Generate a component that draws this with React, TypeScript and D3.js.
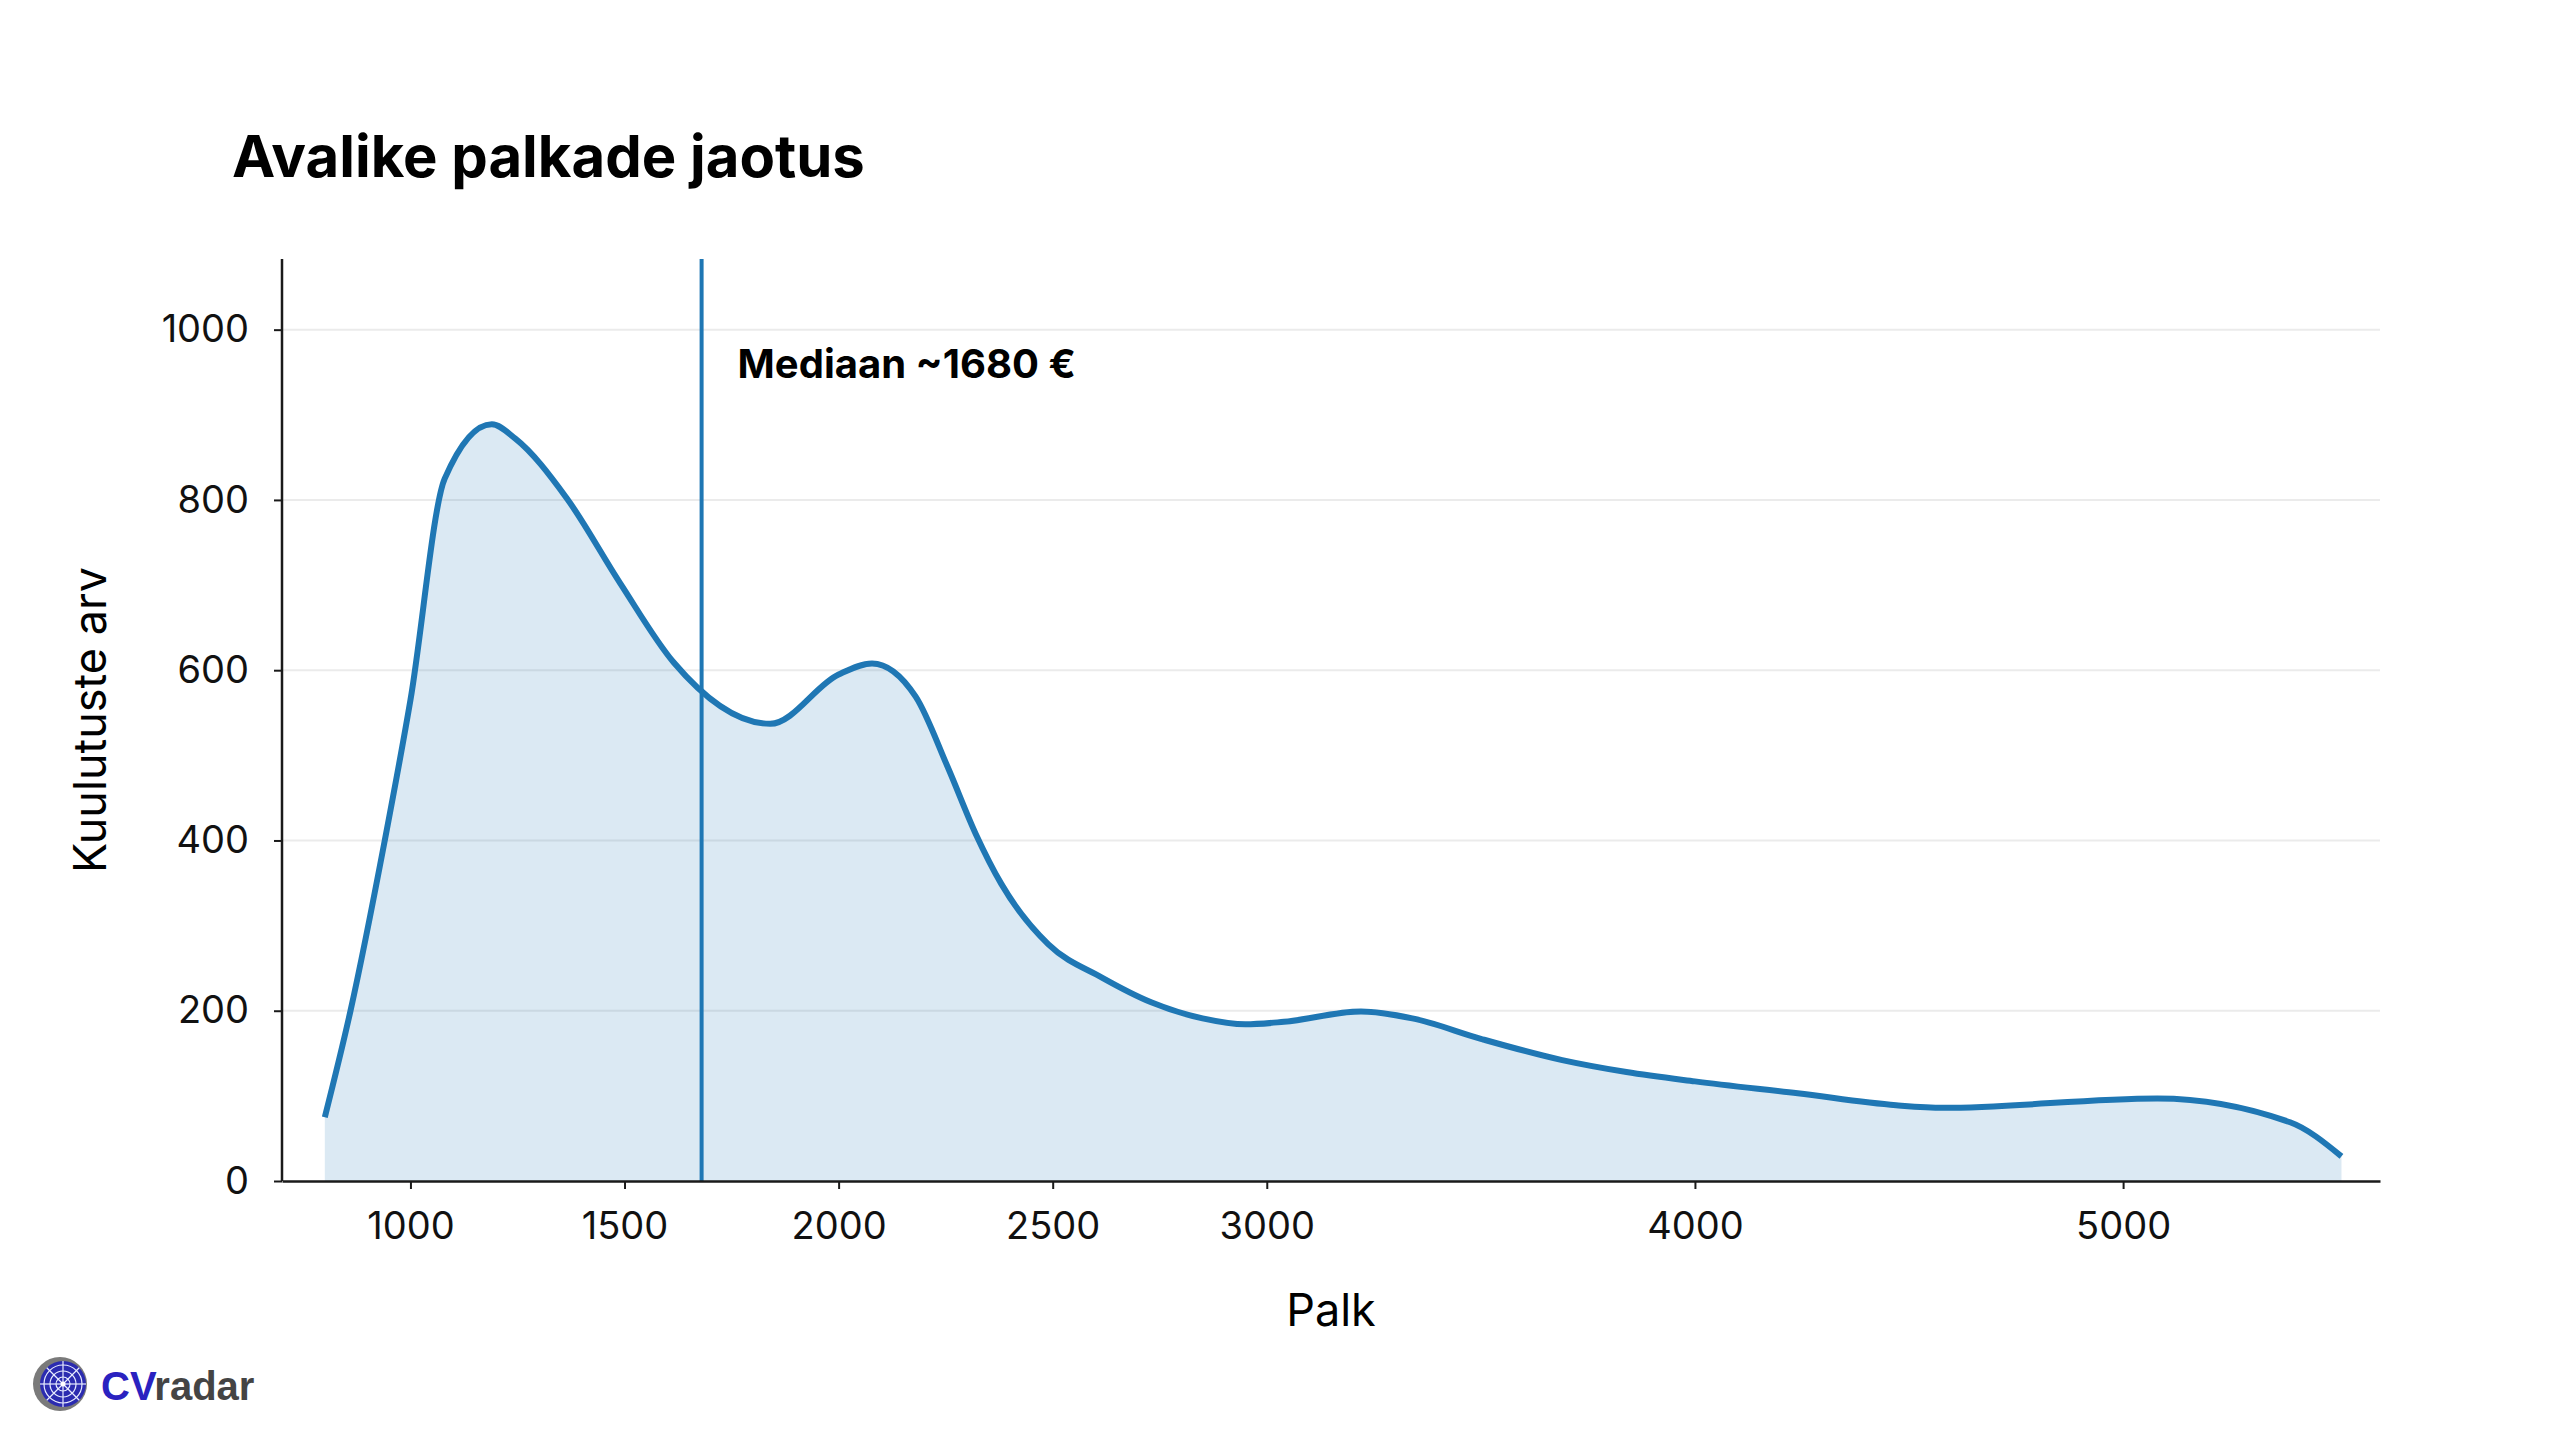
import React, { useEffect, useRef } from "react";
import * as d3 from "d3";

// salary (EUR) and number of job ads
const salaries = [
  800, 860, 940, 1000, 1080, 1190, 1245, 1365, 1490, 1615, 1840, 2000, 2078,
  2180, 2255, 2320, 2380, 2490, 2615, 2730, 2850, 2950, 3040, 3220, 3340, 3500,
  3690, 3840, 4000, 4240, 4470, 4580, 5080, 5390, 5510,
];
const counts = [
  75, 200, 400, 565, 825, 889, 872, 802, 702, 609, 537, 595, 608, 569, 486,
  408, 349, 278, 239, 210, 191, 184, 187, 199, 191, 167, 142, 128, 117, 103,
  89, 86, 97, 69, 29,
];
const xTicks = [1000, 1500, 2000, 2500, 3000, 4000, 5000];
const yTicks = [0, 200, 400, 600, 800, 1000];
const median = 1680;

const W = 2560;
const H = 1440;
const FONT = "Inter, 'Noto Sans', sans-serif";
const BLUE = "#1f77b4";

const DensityChart: React.FC = () => {
  const ref = useRef<SVGSVGElement | null>(null);

  useEffect(() => {
    if (!ref.current) return;
    const svg = d3.select(ref.current);
    svg.selectAll("*").remove();

    const left = 282;
    const right = 2380;
    const top = 259;
    const bottom = 1181;

    const x = d3.scaleLinear().domain([700, 5600]).range([left, right]);
    const y = d3.scaleLinear().domain([0, 1083]).range([bottom, top]);

    const data = salaries.map((s, i) => ({ s, c: counts[i] }));

    svg.append("rect").attr("width", W).attr("height", H).attr("fill", "#fff");

    // title
    svg
      .append("text")
      .attr("x", 232)
      .attr("y", 177)
      .attr("font-family", FONT)
      .attr("font-weight", 700)
      .attr("font-size", 58)
      .attr("fill", "#000")
      .text("Avalike palkade jaotus");

    // grid
    svg
      .append("g")
      .selectAll("line")
      .data(yTicks.filter((t) => t > 0))
      .enter()
      .append("line")
      .attr("x1", left)
      .attr("x2", right)
      .attr("y1", (d) => y(d))
      .attr("y2", (d) => y(d))
      .attr("stroke", "#ebebeb")
      .attr("stroke-width", 2);

    const area = d3
      .area<{ s: number; c: number }>()
      .x((d) => x(d.s))
      .y0(y(0))
      .y1((d) => y(d.c))
      .curve(d3.curveMonotoneX);

    const line = d3
      .line<{ s: number; c: number }>()
      .x((d) => x(d.s))
      .y((d) => y(d.c))
      .curve(d3.curveMonotoneX);

    svg
      .append("path")
      .datum(data)
      .attr("d", area)
      .attr("fill", BLUE)
      .attr("fill-opacity", 0.16);

    svg
      .append("path")
      .datum(data)
      .attr("d", line)
      .attr("fill", "none")
      .attr("stroke", BLUE)
      .attr("stroke-width", 6)
      .attr("stroke-linejoin", "round");

    // median line + label
    svg
      .append("line")
      .attr("x1", x(median))
      .attr("x2", x(median))
      .attr("y1", top)
      .attr("y2", bottom)
      .attr("stroke", BLUE)
      .attr("stroke-width", 4);

    svg
      .append("text")
      .attr("x", x(median) + 36)
      .attr("y", 378)
      .attr("font-family", FONT)
      .attr("font-weight", 700)
      .attr("font-size", 40)
      .attr("fill", "#000")
      .text(`Mediaan ~${median} €`);

    // axes
    const xAxis = svg
      .append("g")
      .attr("transform", `translate(0,${bottom})`)
      .call(
        d3
          .axisBottom(x)
          .tickValues(xTicks)
          .tickFormat((d) => String(d))
          .tickSize(8)
          .tickSizeOuter(0)
          .tickPadding(23)
      );
    const yAxis = svg
      .append("g")
      .attr("transform", `translate(${left},0)`)
      .call(
        d3
          .axisLeft(y)
          .tickValues(yTicks)
          .tickFormat((d) => String(d))
          .tickSize(8)
          .tickSizeOuter(0)
          .tickPadding(25)
      );
    [xAxis, yAxis].forEach((g) => {
      g.selectAll("text")
        .attr("font-family", FONT)
        .attr("font-size", 38)
        .attr("fill", "#111");
      g.selectAll("line").attr("stroke", "#1a1a1a").attr("stroke-width", 2);
      g.select(".domain").attr("stroke", "#1a1a1a").attr("stroke-width", 2.5);
    });
    yAxis.select(".domain").attr("d", `M0,${top}V${bottom}`);

    // axis titles
    svg
      .append("text")
      .attr("x", (left + right) / 2)
      .attr("y", 1326)
      .attr("text-anchor", "middle")
      .attr("font-family", FONT)
      .attr("font-size", 45)
      .attr("fill", "#000")
      .text("Palk");

    svg
      .append("text")
      .attr("transform", `translate(106,${(top + bottom) / 2}) rotate(-90)`)
      .attr("text-anchor", "middle")
      .attr("font-family", FONT)
      .attr("font-size", 45)
      .attr("fill", "#000")
      .text("Kuulutuste arv");

    // CVradar logo
    const logo = svg.append("g");
    const cx = 62;
    const cy = 1384;
    logo.append("circle").attr("cx", cx - 2).attr("cy", cy).attr("r", 27).attr("fill", "#7a7a7a");
    logo.append("circle").attr("cx", cx + 1).attr("cy", cy).attr("r", 23).attr("fill", "#2b2bb0");
    [7, 13, 19].forEach((r) =>
      logo
        .append("circle")
        .attr("cx", cx + 1)
        .attr("cy", cy)
        .attr("r", r)
        .attr("fill", "none")
        .attr("stroke", "#e8ecff")
        .attr("stroke-width", 1.2)
    );
    d3.range(8).forEach((i) => {
      const a = (i * Math.PI) / 4;
      logo
        .append("line")
        .attr("x1", cx + 1)
        .attr("y1", cy)
        .attr("x2", cx + 1 + 23 * Math.cos(a))
        .attr("y2", cy + 23 * Math.sin(a))
        .attr("stroke", "#e8ecff")
        .attr("stroke-width", 1.2);
    });
    logo.append("circle").attr("cx", cx + 1).attr("cy", cy).attr("r", 2.5).attr("fill", "#fff");
    const logoText = logo
      .append("text")
      .attr("x", 101)
      .attr("y", 1400)
      .attr("font-family", "'Liberation Sans', Arial, sans-serif")
      .attr("font-weight", 700)
      .attr("font-size", 40);
    logoText.append("tspan").attr("fill", "#2a22c0").text("CV");
    logoText.append("tspan").attr("fill", "#444").text("radar");
  }, []);

  return (
    <svg
      ref={ref}
      width={W}
      height={H}
      style={{ position: "absolute", left: 0, top: 0 }}
    ></svg>
  );
};

export default function App() {
  return <DensityChart />;
}
